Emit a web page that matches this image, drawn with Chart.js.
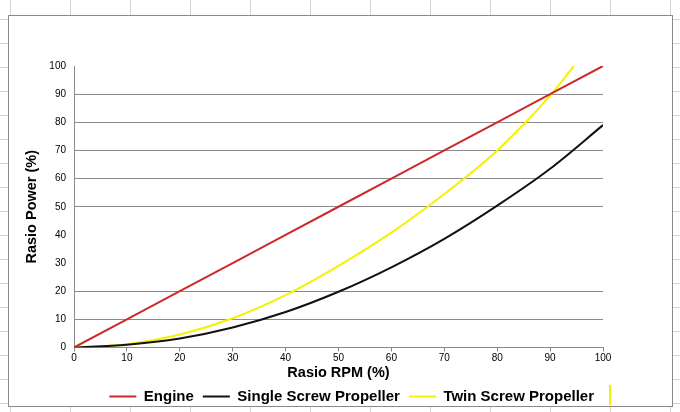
<!DOCTYPE html>
<html>
<head>
<meta charset="utf-8">
<script src="https://cdn.jsdelivr.net/npm/chart.js@4"></script>
<style>
  html, body { margin: 0; padding: 0; width: 680px; height: 412px; overflow: hidden; background: #fff; }
  body {
    background-image:
      linear-gradient(to right, #d4d4d4 1px, transparent 1px),
      linear-gradient(to bottom, #d4d4d4 1px, transparent 1px);
    background-size: 60px 24px;
    background-position: 10px 19px;
  }
  #box { position: absolute; left: 8px; top: 15px; width: 663px; height: 390px; border: 1px solid #8a8a8a; background: #fff; }
  #wrap { position: absolute; left: 0; top: 0; width: 680px; height: 412px; }
  .cursor { position: absolute; left: 609px; top: 385px; width: 2px; height: 20px; background: #f2ee00; }
</style>
</head>
<body>
<div id="box"></div>
<div class="cursor"></div>
<div id="wrap"><canvas id="c" width="680" height="412"></canvas></div>
<script>
const rpm = [0, 10, 20, 30, 40, 50, 60, 70, 80, 90, 100];
const engine = [0, 10, 20, 30, 40, 50, 60, 70, 80, 90, 100];
const single = [0, 1, 3.2, 7.1, 12.6, 19.8, 28.5, 38.6, 50.4, 63.5, 79];
const twinRpm = [0, 10, 20, 30, 40, 50, 60, 70, 80, 90, 94.5];
const twin = [0, 1.2, 4.6, 10.4, 18.6, 29, 40.8, 54.5, 70, 89.5, 100];
const xTicks = [0, 10, 20, 30, 40, 50, 60, 70, 80, 90, 100];
const yTicks = [0, 10, 20, 30, 40, 50, 60, 70, 80, 90, 100];
const seriesNames = ['Engine', 'Single Screw Propeller', 'Twin Screw Propeller'];
const hiddenGrid = [30, 40, 100];

const pts = (xs, ys) => xs.map((x, i) => ({ x: x, y: ys[i] }));
const FONT = "'Liberation Sans', Arial, sans-serif";

new Chart(document.getElementById('c'), {
  type: 'line',
  data: {
    datasets: [
      { label: seriesNames[0], data: pts(rpm, engine), borderColor: '#cc2a2a', backgroundColor: '#cc2a2a', borderWidth: 2, pointRadius: 0, tension: 0 },
      { label: seriesNames[1], data: pts(rpm, single), borderColor: '#111111', backgroundColor: '#111111', borderWidth: 2, pointRadius: 0, cubicInterpolationMode: 'monotone' },
      { label: seriesNames[2], data: pts(twinRpm, twin), borderColor: '#f5f200', backgroundColor: '#f5f200', borderWidth: 2, pointRadius: 0, cubicInterpolationMode: 'monotone' }
    ]
  },
  options: {
    responsive: false,
    animation: false,
    layout: { padding: { left: 20, right: 77, top: 66, bottom: -2 } },
    plugins: {
      tooltip: { enabled: false },
      legend: {
        position: 'bottom',
        align: 'end',
        labels: {
          boxWidth: 27, boxHeight: 2, padding: 9,
          color: '#000',
          font: { family: FONT, size: 15, weight: 'bold' },
          generateLabels: chart => Chart.defaults.plugins.legend.labels.generateLabels(chart).map(l => Object.assign(l, { lineWidth: 0 }))
        }
      }
    },
    scales: {
      x: {
        type: 'linear', min: 0, max: 100,
        afterBuildTicks: s => { s.ticks = xTicks.map(v => ({ value: v })); },
        grid: { drawOnChartArea: false, drawTicks: true, tickLength: 4, color: '#8a8a8a' },
        border: { color: '#8a8a8a', width: 1 },
        ticks: { color: '#000', font: { family: FONT, size: 10, lineHeight: 1 }, padding: 2, maxRotation: 0 },
        title: { display: true, text: 'Rasio RPM (%)', color: '#000', font: { family: FONT, size: 14.5, weight: 'bold', lineHeight: 1 }, padding: { top: 0, bottom: 0 } }
      },
      y: {
        min: 0, max: 100,
        afterBuildTicks: s => { s.ticks = yTicks.map(v => ({ value: v })); },
        afterFit: s => { s.width = 54; },
        grid: {
          drawTicks: false,
          color: c => hiddenGrid.includes(c.tick.value) ? 'rgba(0,0,0,0)' : '#8a8a8a',
          lineWidth: 1
        },
        border: { color: '#8a8a8a', width: 1 },
        ticks: { color: '#000', font: { family: FONT, size: 10 }, padding: 8 },
        title: { display: true, text: 'Rasio Power (%)', color: '#000', font: { family: FONT, size: 14.5, weight: 'bold' }, padding: { top: 3, bottom: 3 } }
      }
    }
  }
});
</script>
</body>
</html>
